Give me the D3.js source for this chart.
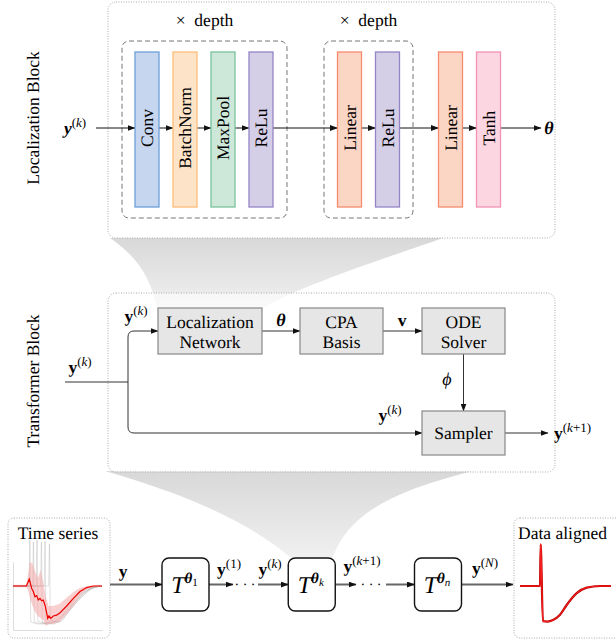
<!DOCTYPE html>
<html>
<head>
<meta charset="utf-8">
<script src="https://cdn.jsdelivr.net/npm/d3@7"></script>
<style>
  body { margin: 0; background: #fff; }
  svg { display: block; }
  svg text { text-rendering: geometricPrecision; }
</style>
</head>
<body>
<svg id="fig" width="616" height="642" font-family="Liberation Serif"></svg>
<script>
// --- data: layer names, node names, signal samples ---
const convLayers = ["Conv", "BatchNorm", "MaxPool", "ReLu"];
const mlpLayers = ["Linear", "ReLu"];
const headLayers = ["Linear", "Tanh"];
const transformerNodes = [["Localization", "Network"], ["CPA", "Basis"], ["ODE", "Solver"], ["Sampler"]];
const chainNodes = ["1", "k", "n"];

// mean of the raw time series (t, value)
const meanT = [0, 15, 18.3, 21, 22.8, 24.7, 26.6, 28.4, 30.3, 32.2, 34, 36, 37.9, 39, 40.4, 42.4, 45.3, 49, 52.8, 60.3, 67.8, 75.3, 82.8, 90.3, 100];
const meanV = [0, 0, 0.17, -0.06, -0.14, -0.27, -0.24, -0.35, -0.31, -0.37, -0.35, -0.48, -0.68, -0.81, -0.75, -0.81, -0.75, -0.73, -0.67, -0.5, -0.31, -0.14, -0.04, 0, 0];
// spread band around the mean
const bandT = [0, 15, 17, 19, 22, 25, 28, 31, 34, 37, 40, 45, 52, 60, 68, 75, 83, 92, 100];
const bandHi = [0.03, 0.03, 0.3, 0.6, 0.55, 0.35, 0.2, 0.4, 0.1, -0.3, -0.5, -0.5, -0.45, -0.3, -0.15, -0.05, 0, 0.02, 0.02];
const bandLo = [-0.03, -0.03, -0.1, -0.3, -0.5, -0.65, -0.75, -0.8, -0.85, -1.0, -0.95, -0.95, -0.9, -0.72, -0.48, -0.25, -0.08, -0.02, -0.02];
// individual raw samples
const rawSamples = [
  [[0,0],[18,0],[19,1.15],[20,-0.9],[30,-0.95],[45,-0.85],[60,-0.55],[75,-0.2],[88,-0.03],[100,0]],
  [[0,0],[22,0],[23,1.1],[24,-0.9],[38,-0.95],[52,-0.8],[66,-0.45],[80,-0.15],[92,-0.02],[100,0]],
  [[0,0],[26,0],[27,1.15],[28,-0.88],[42,-0.93],[55,-0.75],[70,-0.4],[84,-0.1],[100,0]],
  [[0,0],[31,0],[32,1.1],[33,-0.92],[45,-0.95],[58,-0.7],[72,-0.35],[86,-0.08],[100,0]],
  [[0,0],[35,0],[36,1.12],[37,-0.9],[50,-0.9],[62,-0.65],[76,-0.3],[90,-0.05],[100,0]],
  [[0,0],[40,0],[41,1.05],[42,-0.85],[52,-0.9],[64,-0.6],[78,-0.25],[92,-0.03],[100,0]]
];
// aligned signal
const alignedT = [0, 22, 22.7, 25.2, 30, 36.3, 44, 51.3, 62.3, 73.3, 88, 100];
const alignedV = [0, 0, 1.04, -0.88, -0.89, -0.85, -0.72, -0.475, -0.18, -0.04, 0, 0];

const FONT = "Liberation Serif";
const svg = d3.select("#fig");
const defs = svg.append("defs");

defs.append("marker").attr("id", "arr")
  .attr("markerUnits", "userSpaceOnUse")
  .attr("markerWidth", 8).attr("markerHeight", 6)
  .attr("refX", 7.5).attr("refY", 3).attr("orient", "auto")
  .append("path").attr("d", "M0,0 L8,3 L0,6 Z").attr("fill", "#111");

const grad = defs.append("linearGradient").attr("id", "fun").attr("x1", 0).attr("y1", 0).attr("x2", 0).attr("y2", 1);
grad.append("stop").attr("offset", "0%").attr("stop-color", "#d8d8d8");
grad.append("stop").attr("offset", "100%").attr("stop-color", "#f0f0f0");

// plain text label
const label = (x, y, s, anchor = "middle", size = 17.5) => svg.append("text")
  .attr("x", x).attr("y", y).attr("text-anchor", anchor)
  .attr("font-family", FONT).attr("font-size", size).attr("fill", "#000").text(s);

// tex-like label made of parts
const mtext = (x, y, parts, anchor = "middle", size = 17.5) => {
  const t = svg.append("text").attr("x", x).attr("y", y)
    .attr("text-anchor", anchor)
    .attr("font-family", FONT).attr("font-size", size).attr("fill", "#000");
  parts.forEach(p => {
    const s = t.append("tspan").attr("font-family", FONT).text(p.t);
    s.attr("font-weight", p.b ? "bold" : "normal");
    s.attr("font-style", p.i ? "italic" : "normal");
    s.attr("font-size", p.fs || size);
    if (p.dy) s.attr("dy", p.dy);
  });
  return t;
};
// superscript like (k), (k+1), (1), (N)
const ySup = (sup, italicY = false) => {
  const parts = [{ t: "y", b: 1, i: italicY }, { t: "(", fs: 13, dy: -7 }];
  sup.split(/(\+)/).forEach(s => parts.push({ t: s, fs: 13, i: /[a-zA-Z]/.test(s) }));
  parts.push({ t: ")", fs: 13 });
  return parts;
};

const line = (x1, y1, x2, y2, opts = {}) => svg.append("line")
  .attr("x1", x1).attr("y1", y1).attr("x2", x2).attr("y2", y2)
  .attr("stroke", opts.color || "#111").attr("stroke-width", opts.w || 1)
  .attr("marker-end", opts.arrow === false ? null : "url(#arr)");

// ---------------- funnels (drawn first) ----------------
svg.append("path")
  .attr("d", "M110,238 L443,238 C410,250 300,285 263,308 L157,308 C150,275 135,255 110,238 Z")
  .attr("fill", "url(#fun)");
svg.append("path")
  .attr("d", "M105,471 L472,471 C400,490 350,510 333,557 L290,557 C240,515 170,490 105,471 Z")
  .attr("fill", "url(#fun)");

// ---------------- localization block ----------------
svg.append("rect").attr("x", 108).attr("y", 2).attr("width", 447).attr("height", 236).attr("rx", 8)
  .attr("fill", "#fff").attr("stroke", "#aaa").attr("stroke-dasharray", "1,1.5");
svg.append("text").attr("transform", "translate(39,118) rotate(-90)")
  .attr("text-anchor", "middle").attr("font-family", FONT).attr("font-size", 17.5)
  .text("Localization Block");

const layerColor = {
  Conv: ["#c6d6ef", "#6c9fd8"],
  BatchNorm: ["#fde4c9", "#fdbe77"],
  MaxPool: ["#cde8d9", "#78c39b"],
  ReLu: ["#d5cee7", "#9484c6"],
  Linear: ["#fcd6c5", "#f58a6c"],
  Tanh: ["#fcd6e1", "#f391b4"]
};
const rowY = 128, barTop = 52, barH = 155, barW = 24;

// dashed groups
[[122, 165], [324, 89]].forEach(([x, w]) => {
  svg.append("rect").attr("x", x).attr("y", 41).attr("width", w).attr("height", 177).attr("rx", 7)
    .attr("fill", "none").attr("stroke", "#777").attr("stroke-dasharray", "5,3").attr("stroke-width", 1);
  label(x + w / 2, 26, "×\u2002depth");
});

const groups = [
  { names: convLayers, x: d3.scalePoint().domain(d3.range(convLayers.length)).range([147, 261]) },
  { names: mlpLayers, x: d3.scalePoint().domain(d3.range(mlpLayers.length)).range([349.5, 387.5]) },
  { names: headLayers, x: d3.scalePoint().domain(d3.range(headLayers.length)).range([450.5, 488.5]) }
];
const centers = [];
groups.forEach(gr => gr.names.forEach((n, i) => centers.push({ n, cx: gr.x(i) })));

// arrows through the localization row
line(96, rowY, centers[0].cx - barW / 2, rowY);
centers.forEach((c, i) => {
  if (i > 0) line(centers[i - 1].cx + barW / 2, rowY, c.cx - barW / 2, rowY);
});
line(centers[centers.length - 1].cx + barW / 2, rowY, 541, rowY);

const bars = svg.selectAll("g.layer").data(centers).join("g").attr("class", "layer");
bars.append("rect")
  .attr("x", d => d.cx - barW / 2).attr("y", barTop).attr("width", barW).attr("height", barH)
  .attr("fill", d => layerColor[d.n][0]).attr("stroke", d => layerColor[d.n][1]).attr("stroke-width", 1.3);
bars.append("text")
  .attr("transform", d => `translate(${d.cx + 6},${rowY}) rotate(-90)`)
  .attr("text-anchor", "middle").attr("font-family", FONT).attr("font-size", 17.5)
  .text(d => d.n);

mtext(75, rowY + 6, ySup("k", true));
mtext(549, rowY + 6, [{ t: "θ", b: 1, i: 1 }], "middle", 18);

// ---------------- transformer block ----------------
svg.append("rect").attr("x", 108).attr("y", 293).attr("width", 447).attr("height", 179).attr("rx", 8)
  .attr("fill", "#fff").attr("fill-opacity", 0.6).attr("stroke", "#aaa").attr("stroke-dasharray", "1,1.5");
svg.append("text").attr("transform", "translate(39,381) rotate(-90)")
  .attr("text-anchor", "middle").attr("font-family", FONT).attr("font-size", 17.5)
  .text("Transformer Block");

const nodeBox = [
  { x: 158, y: 308, w: 104, h: 46 },
  { x: 300, y: 308, w: 83, h: 46 },
  { x: 422, y: 308, w: 83, h: 46 },
  { x: 422, y: 411, w: 83, h: 44 }
];
const tc = "#333";
line(262, 331, 300, 331, { color: tc });
line(383, 331, 422, 331, { color: tc });
line(463.5, 354, 463.5, 411, { color: tc });
line(505, 433, 548, 433, { color: tc });
svg.append("path").attr("d", "M65,382 H128").attr("fill", "none").attr("stroke", tc).attr("stroke-width", 1);
svg.append("path").attr("d", "M128,382 V337 Q128,331 134,331 H158").attr("fill", "none")
  .attr("stroke", tc).attr("stroke-width", 1).attr("marker-end", "url(#arr)");
svg.append("path").attr("d", "M128,382 V427 Q128,433 134,433 H422").attr("fill", "none")
  .attr("stroke", tc).attr("stroke-width", 1).attr("marker-end", "url(#arr)");

transformerNodes.forEach((lines, i) => {
  const b = nodeBox[i];
  svg.append("rect").attr("x", b.x).attr("y", b.y).attr("width", b.w).attr("height", b.h)
    .attr("fill", "#e6e6e6").attr("stroke", "#888").attr("stroke-width", 1.2);
  const cy = b.y + b.h / 2;
  lines.forEach((s, j) => {
    const yy = lines.length === 1 ? cy + 6 : cy - 9 + j * 20 + 6;
    label(b.x + b.w / 2, yy, s);
  });
});

mtext(281, 326, [{ t: "θ", b: 1, i: 1 }], "middle", 18);
mtext(402, 326, [{ t: "v", b: 1 }]);
mtext(447, 385, [{ t: "ϕ", i: 1 }], "middle", 18);
mtext(136, 322, ySup("k"));
mtext(80, 373, ySup("k"));
mtext(390, 421, ySup("k"));
mtext(554, 439, ySup("k+1"), "start");

// ---------------- bottom chain ----------------
const gc = "#666";
// time series panel
svg.append("rect").attr("x", 8).attr("y", 518).attr("width", 102).attr("height", 120).attr("rx", 6)
  .attr("fill", "#fff").attr("stroke", "#aaa").attr("stroke-dasharray", "1,1.5");
label(58, 539, "Time series");
// aligned panel
svg.append("rect").attr("x", 514).attr("y", 518).attr("width", 110).attr("height", 120).attr("rx", 6)
  .attr("fill", "#fff").attr("stroke", "#aaa").attr("stroke-dasharray", "1,1.5");
label(518, 539, "Data aligned", "start");

const xs = d3.scaleLinear().domain([0, 100]).range([13, 102]);
const ys = d3.scaleLinear().domain([-1, 1]).range([626, 546]);
const plot = svg.append("g");
plot.append("g").attr("transform", "translate(0,630)")
  .call(d3.axisBottom(xs).tickValues([]).tickSizeOuter(0))
  .call(g => g.select(".domain").attr("stroke", "#ddd"));
plot.append("g").attr("transform", "translate(13,0)")
  .call(d3.axisLeft(d3.scaleLinear().domain([-1.1, 0.6]).range([630, 562])).tickValues([]).tickSizeOuter(0))
  .call(g => g.select(".domain").attr("stroke", "#ddd"));

const ln = d3.line().x(d => xs(d[0])).y(d => ys(d[1]));
plot.selectAll("path.raw").data(rawSamples).join("path").attr("class", "raw")
  .attr("d", d3.line().x(d => xs(d[0])).y(d => ys(d[1])).curve(d3.curveMonotoneX))
  .attr("fill", "none").attr("stroke", "#999").attr("stroke-opacity", 0.3).attr("stroke-width", 1);
const band = bandT.map((t, i) => [t, bandLo[i], bandHi[i]]);
plot.append("path").datum(band)
  .attr("d", d3.area().x(d => xs(d[0])).y0(d => ys(d[1])).y1(d => ys(d[2])))
  .attr("fill", "#f4a0a0").attr("fill-opacity", 0.5);
plot.append("path").datum(meanT.map((t, i) => [t, meanV[i]]))
  .attr("d", ln).attr("fill", "none").attr("stroke", "#e00").attr("stroke-width", 1.2);

const xa = d3.scaleLinear().domain([0, 100]).range([520, 611]);
const alignedPts = alignedT.map((t, i) => [t, alignedV[i]]);
const lnA = d3.line().x(d => xa(d[0])).y(d => ys(d[1])).curve(d3.curveMonotoneX);
svg.append("path").datum(alignedPts).attr("d", lnA)
  .attr("fill", "none").attr("stroke", "#b00").attr("stroke-width", 2.2);
svg.append("path").datum(alignedPts).attr("d", lnA)
  .attr("fill", "none").attr("stroke", "#f22").attr("stroke-width", 1);

// T boxes
const tBox = d3.scalePoint().domain(chainNodes).range([185.5, 438]);
const bw = 47, by = 558, bh = 53, cy = by + bh / 2;
line(110, cy, tBox("1") - bw / 2, cy, { color: gc, w: 2 });
line(tBox("1") + bw / 2, cy, 233, cy, { color: gc, w: 2 });
line(258, cy, tBox("k") - bw / 2, cy, { color: gc, w: 2 });
line(tBox("k") + bw / 2, cy, 356, cy, { color: gc, w: 2 });
line(386, cy, tBox("n") - bw / 2, cy, { color: gc, w: 2 });
line(tBox("n") + bw / 2, cy, 513, cy, { color: gc, w: 2 });
label(245, cy + 4, "· · ·", "middle", 14);
label(371, cy + 4, "· · ·", "middle", 14);

chainNodes.forEach(n => {
  const x = tBox(n);
  svg.append("rect").attr("x", x - bw / 2).attr("y", by).attr("width", bw).attr("height", bh).attr("rx", 7)
    .attr("fill", "#fff").attr("stroke", "#111").attr("stroke-width", 1.4);
  mtext(x - 1, cy + 8, [
    { t: "T", i: 1, fs: 24 },
    { t: "θ", b: 1, i: 1, fs: 15, dy: -10 },
    { t: n, fs: 11, dy: 3, i: n !== "1" }
  ], "middle", 24);
});

mtext(123, 577, [{ t: "y", b: 1 }]);
mtext(229, 575, ySup("1"));
mtext(270, 575, ySup("k"));
mtext(362, 572, ySup("k+1"));
mtext(485, 574, ySup("N"));
</script>
</body>
</html>
